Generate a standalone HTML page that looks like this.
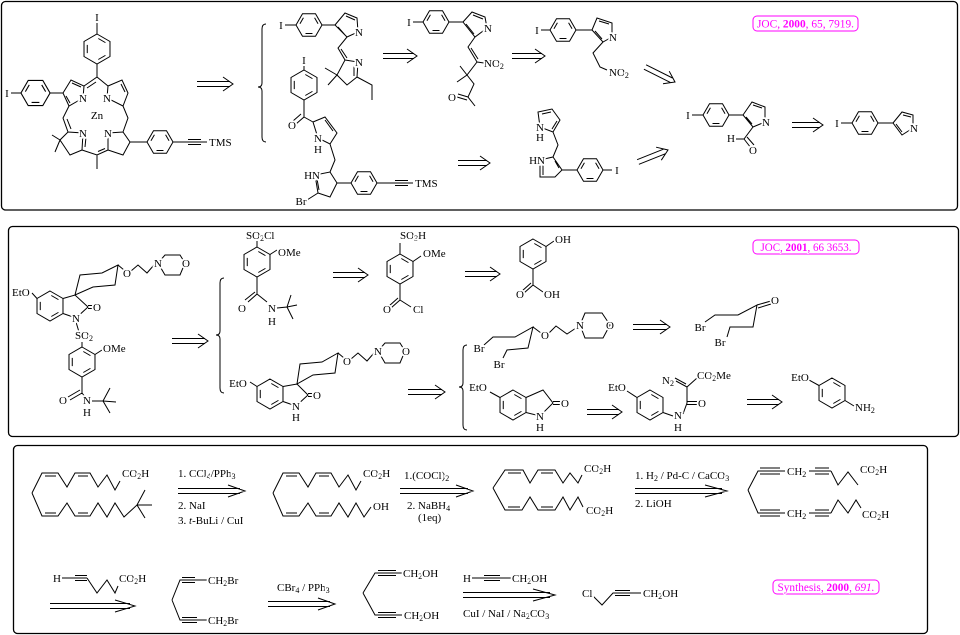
<!DOCTYPE html>
<html><head><meta charset="utf-8">
<style>
html,body{margin:0;padding:0;background:#fff;width:960px;height:635px;overflow:hidden}
svg{display:block}
.l{fill:none;stroke:#000;stroke-width:1}
text{font-family:"Liberation Serif",serif;font-size:11px;fill:#000;paint-order:stroke;stroke:#fff;stroke-width:3.5px;stroke-linejoin:round}
.c{text-anchor:middle}
.e{text-anchor:end}
.s{font-size:8px}
.m{fill:#f0f;font-size:12px;stroke-width:2px}
.box{fill:#fff;stroke:#f0f;stroke-width:1}
.pan{fill:none;stroke:#000;stroke-width:1.3}
</style></head>
<body>
<svg width="960" height="635" viewBox="0 0 960 635" xmlns="http://www.w3.org/2000/svg">
<defs>
<g id="hv"><polygon class="l" points="0,-15 12.99,-7.5 12.99,7.5 0,15 -12.99,7.5 -12.99,-7.5"/><polygon class="l" points="0,-11.25 9.74,-5.63 9.74,5.63 0,11.25 -9.74,5.63 -9.74,-5.63" stroke-dasharray="0 1.5 8.25 12.75"/></g>
<g id="hh"><polygon class="l" points="-13,0 -6.5,-11.26 6.5,-11.26 13,0 6.5,11.26 -6.5,11.26"/><polygon class="l" points="-9.75,0 -4.875,-8.44 4.875,-8.44 9.75,0 4.875,8.44 -4.875,8.44" stroke-dasharray="0 1.4 6.95 11.15"/></g>
</defs>
<rect width="960" height="635" fill="#fff"/>

<!-- PANEL BORDERS -->
<rect class="pan" x="1.5" y="1.5" width="956" height="208.5" rx="4"/>
<rect class="pan" x="8.5" y="226.5" width="950" height="210" rx="4"/>
<rect class="pan" x="13.5" y="445.5" width="914" height="188" rx="4"/>

<!-- ================= PANEL 1 ================= -->
<!-- porphyrin -->
<use href="#hv" x="97" y="49"/>
<use href="#hh" transform="translate(35.5,93) scale(1.12)"/>
<use href="#hh" x="160" y="142"/>
<path class="l" d="M97,23 L97,34 M97,64 L97,77 L84,86 M97,77 L108,86
M63,93 L71,80 L84,86 L83,98 L69,106 Z M72,83 L81,87 M66,96 L70,103
M50,93 L63,93 M11,93 L21,93 M87,88 L96,82
M108,86 L122,80 L128,93 L123,106 L107,98 Z M121,84 L125,92
M69,106 L63,118 L68,132 M67,119 L71,129
M68,132 L83,133 L82,150 L70,155 L60,140 Z M86,137 L85,147
M60,140 L52,135 M60,140 L55,152
M82,150 L97,155 L108,150 M98,151.5 L105,148.5 M97,155 L97,169
M108,133 L123,132 L130,142 L123,155 L108,150 Z
M123,106 L128,118 L123,132 M130,142 L147,142
M173,142 L207,142 M188,139.5 L201,139.5 M188,144.5 L201,144.5"/>
<text class="c" x="97" y="21">I</text>
<text class="c" x="7" y="97">I</text>
<text class="c" x="83" y="102">N</text>
<text class="c" x="107" y="102">N</text>
<text class="c" x="97" y="119">Zn</text>
<text class="c" x="83" y="137">N</text>
<text class="c" x="108" y="137">N</text>
<text x="209" y="146">TMS</text>

<!-- arrows panel 1 -->
<path class="l" d="M197,81.5 L230,81.5 M197,86.5 L230,86.5 M223,77 L233,84 L223,91
M383,53.5 L414,53.5 M383,58.5 L414,58.5 M407,49 L417,56 L407,63
M512,53.5 L542,53.5 M512,58.5 L542,58.5 M535,49 L545,56 L535,63
M458,160.5 L487,160.5 M458,165.5 L487,165.5 M480,156 L490,163 L480,170
M792,122.5 L820,122.5 M792,127.5 L820,127.5 M813,118 L823,125 L813,132
M643.9,69.2 L670.3,82.4 M646.1,64.8 L672.5,78 M663,83.8 L675,82 L669.2,71.2
M638.9,164.3 L665.2,153.8 M637.1,159.7 L663.4,149.2 M661.3,160.2 L668,150 L656.1,147.2"/>
<!-- brace 1 -->
<path class="l" d="M266,24 Q262,24 262,29 L262,83 Q262,87 258,87 Q262,87 262,91 L262,137 Q262,142 266,142"/>

<!-- T1 -->
<use href="#hh" x="309" y="25"/>
<path class="l" d="M285,25 L296,25 M322,25 L335,25
M335,25 L345,13 L357,18 L358,32 L347,37 Z M346,16 L355,20 M338,27 L345,35
M347,37 L338,48 L345,60 M341,49 L347,58
M345,60 L358,62 L357,77 L347,85 L337,75 Z M354,66 L354,76
M337,75 L325,68 M337,75 L328,85 M357,77 L372,85 L372,100"/>
<text class="c" x="281" y="29">I</text>
<text class="c" x="359" y="36">N</text>
<text class="c" x="359" y="66">N</text>

<!-- T2 -->
<use href="#hv" x="304" y="85"/>
<use href="#hh" x="364" y="183"/>
<path class="l" d="M304,66 L304,70 M304,100 L304,117 L296,124 M301,114 L293,121 M304,117 L313,122
M313,122 L325,117 L337,133 L330,144 L318,138 Z M325,120 L333,131
M330,144 L335,160 L330,172
M330,172 L337,183 L330,197 L318,193 L315,175 Z M319,190 L317,179
M318,193 L307,200 M337,183 L351,183
M377,183 L413,183 M395,180.5 L408,180.5 M395,185.5 L408,185.5"/>
<text class="c" x="304" y="64">I</text>
<text class="c" x="292" y="129">O</text>
<text class="c" x="318" y="142">N</text>
<text class="c" x="318" y="153">H</text>
<text class="e" x="320" y="179">HN</text>
<text class="c" x="301" y="205">Br</text>
<text x="415" y="187">TMS</text>

<!-- T3 -->
<use href="#hh" x="436" y="22"/>
<path class="l" d="M413,22 L423,22 M449,22 L463,22
M463,22 L472,12 L485,17 L487,28 L475,37 Z M473,15 L483,19 M466,24 L474,34
M475,37 L468,47 L477,62 M471,48 L478,59 M477,62 L484,63
M477,62 L467,75 L457,82 M467,75 L460,66 M467,75 L474,84 L468,97 L475,106
M468,97 L458,94 M467,100 L457,97"/>
<text class="c" x="409" y="26">I</text>
<text class="c" x="488" y="32">N</text>
<text x="484" y="67">NO<tspan class="s" dy="2">2</tspan></text>
<text class="c" x="452" y="101">O</text>

<!-- T4 -->
<use href="#hh" x="563" y="30"/>
<path class="l" d="M541,30 L550,30 M576,30 L592,30
M592,30 L597,18 L612,23 L612,37 L603,42 Z M599,21 L609,24 M595,31 L602,39
M603,42 L593,53 L600,67 L607,70"/>
<text class="c" x="537" y="34">I</text>
<text class="c" x="613" y="41">N</text>
<text x="609" y="76">NO<tspan class="s" dy="2">2</tspan></text>

<!-- T5 -->
<use href="#hh" x="590" y="170"/>
<path class="l" d="M540,127 L538,112 L552,109 L560,120 L553,132 Z M542,114 L551,112 M557,121 L552,129
M553,132 L558,145 L553,157
M553,157 L562,170 L555,177 L540,177 L540,160 Z M543,164 L543,175 M555,161 L559,168
M562,170 L577,170 M603,170 L612,170"/>
<text class="c" x="540" y="131">N</text>
<text class="c" x="540" y="141">H</text>
<text class="e" x="545" y="164">HN</text>
<text class="c" x="617" y="174">I</text>

<!-- aldehyde -->
<use href="#hh" x="716" y="115"/>
<path class="l" d="M692,115 L703,115 M729,115 L743,115
M743,115 L752,102 L765,107 L765,122 L753,127 Z M753,105 L762,108 M746,117 L752,124
M753,127 L744,139 L736,139 M744,139 L751,148 M747,137 L754,145"/>
<text class="c" x="688" y="119">I</text>
<text class="c" x="766" y="126">N</text>
<text class="c" x="731" y="142">H</text>
<text class="c" x="753" y="154">O</text>

<!-- final pyrrole -->
<use href="#hh" x="865" y="123"/>
<path class="l" d="M841,123 L852,123 M878,123 L893,123
M893,123 L902,112 L913,115 L913,128 L902,135 Z M903,115 L911,117 M896,124 L902,132"/>
<text class="c" x="837" y="127">I</text>
<text class="c" x="914" y="132">N</text>

<!-- citation 1 -->
<rect class="box" x="753" y="16" width="105" height="15" rx="4"/>
<text class="m c" x="805.5" y="27.5" textLength="97" lengthAdjust="spacingAndGlyphs">JOC, <tspan font-weight="bold">2000</tspan>, 65, 7919.</text>

<!-- ================= PANEL 2 ================= -->
<!-- main -->
<use href="#hv" x="50" y="306"/>
<use href="#hv" x="82" y="362"/>
<path class="l" d="M32,293 L37,298.5
M63,298.5 L75,295 L88,307 L76,318 L63,313.5
M88,305.5 L94,305.5 M88,308.5 L94,308.5
M75,295 L80,275 L102,273 L118,265 L115,285 L93,287 Z
M118,265 L124,270 M131,271 L138,265 L147,273 L154,265
M158,263 L165,255 L180,255 L185,263 L180,275 L165,275 Z
M76,322 L79,332 M82,342 L82,347
M95,354.5 L102,350
M82,377 L82,393 L70,400 M80,390 L68,397 M82,393 L86,398
M92,401 L103,401 L110,388 M103,401 L116,402 M103,401 L110,413"/>
<text x="12" y="296">EtO</text>
<text class="c" x="97" y="311">O</text>
<text class="c" x="127" y="277">O</text>
<text class="c" x="158" y="267">N</text>
<text class="c" x="186" y="267">O</text>
<text class="c" x="76" y="322">N</text>
<text class="c" x="84" y="339">SO<tspan class="s" dy="2">2</tspan></text>
<text x="103" y="352">OMe</text>
<text class="c" x="63" y="404">O</text>
<text class="c" x="87" y="404">N</text>
<text class="c" x="87" y="416">H</text>

<path class="l" d="M172,338.5 L205,338.5 M172,343.5 L205,343.5 M198,334 L208,341 L198,348
M333,272.5 L365,272.5 M333,277.5 L365,277.5 M358,268 L368,275 L358,282
M465,271.5 L497,271.5 M465,276.5 L497,276.5 M490,267 L500,274 L490,281
M408,389.5 L442,389.5 M408,394.5 L442,394.5 M435,385 L445,392 L435,399
M633,324.5 L667,324.5 M633,329.5 L667,329.5 M660,320 L670,327 L660,334
M587,409.5 L619,409.5 M587,414.5 L619,414.5 M612,405 L622,412 L612,419
M747,399.5 L779,399.5 M747,404.5 L779,404.5 M772,395 L782,402 L772,409"/>
<path class="l" d="M224,278 Q220,278 220,283 L220,331 Q220,335 216,335 Q220,335 220,339 L220,388 Q220,393 224,393"/>
<path class="l" d="M467,345 Q463,345 463,350 L463,383 Q463,387 459,387 Q463,387 463,391 L463,425 Q463,430 467,430"/>

<!-- SO2Cl -->
<use href="#hv" x="257" y="262"/>
<path class="l" d="M257,241 L257,247 M270,254.5 L277,250
M257,277 L257,294 L248,302 M255,292 L245,300 M257,294 L267,302
M277,308 L287,307 L291,295 M287,307 L297,305 M287,307 L293,319"/>
<text x="246" y="239">SO<tspan class="s" dy="2">2</tspan><tspan dy="-2">Cl</tspan></text>
<text x="278" y="256">OMe</text>
<text class="c" x="242" y="312">O</text>
<text class="c" x="272" y="312">N</text>
<text class="c" x="272" y="325">H</text>

<!-- SO3H -->
<use href="#hv" x="400" y="269"/>
<path class="l" d="M400,243 L400,254 M413,261.5 L421,256
M400,284 L400,300 L391,308 M398,298 L389,306 M400,300 L411,307"/>
<text x="400" y="239">SO<tspan class="s" dy="2">3</tspan><tspan dy="-2">H</tspan></text>
<text x="423" y="257">OMe</text>
<text class="c" x="387" y="313">O</text>
<text x="413" y="313">Cl</text>

<!-- phenol -->
<use href="#hv" x="533" y="254"/>
<path class="l" d="M546,246.5 L554,241 M533,269 L533,285 L524,293 M531,283 L522,291 M533,285 L543,292"/>
<text x="555" y="243">OH</text>
<text class="c" x="520" y="298">O</text>
<text x="544" y="298">OH</text>

<!-- lower spiro -->
<use href="#hv" x="270" y="394"/>
<path class="l" d="M250,382 L257,386.5
M283,386.5 L297,384 L308,395 L296,406 L283,401.5
M308,393.5 L314,393.5 M308,396.5 L314,396.5
M297,384 L300,364 L322,362 L338,353 L335,373 L313,375 Z
M338,353 L344,358 M351,359 L358,353 L367,361 L374,353
M378,351 L385,343 L400,343 L405,351 L400,363 L385,363 Z"/>
<text class="c" x="238" y="387">EtO</text>
<text class="c" x="317" y="399">O</text>
<text class="c" x="347" y="365">O</text>
<text class="c" x="378" y="355">N</text>
<text class="c" x="406" y="355">O</text>
<text class="c" x="296" y="410">N</text>
<text class="c" x="296" y="421">H</text>

<!-- dibromide -->
<path class="l" d="M484,345 L493,337 L515,337 L533,327 L528,348 L507,350 L503,358
M533,327 L541,333 M549,333 L556,326 L567,334 L576,328
M580,325 L585,313 L602,313 L610,325 L603,338 L585,338 Z"/>
<text class="c" x="479" y="352">Br</text>
<text class="c" x="499" y="368">Br</text>
<text class="c" x="545" y="339">O</text>
<text class="c" x="580" y="329">N</text>
<text class="c" x="610" y="329">O</text>

<!-- bromoketone -->
<path class="l" d="M705,322 L715,315 L738,315 L757,305 L753,327 L730,327 L727,337
M757,305 L771,301 M758,308 L771,304"/>
<text class="c" x="700" y="331">Br</text>
<text class="c" x="720" y="346">Br</text>
<text class="c" x="775" y="304">O</text>

<!-- oxindole -->
<use href="#hv" x="513" y="405"/>
<path class="l" d="M490,392 L500,397.5
M526,397.5 L543,390 L553,403 L540,416 L526,412.5
M553,401.5 L561,401.5 M553,404.5 L561,404.5"/>
<text class="c" x="478" y="391">EtO</text>
<text class="c" x="565" y="407">O</text>
<text class="c" x="540" y="420">N</text>
<text class="c" x="540" y="431">H</text>

<!-- diazo -->
<use href="#hv" x="650" y="405"/>
<path class="l" d="M627,391 L637,397.5 M663,412.5 L673,416
M683,414 L687,403 L687,387 M687,401.5 L697,401.5 M687,404.5 L697,404.5
M687,387 L676,381 M686,384 L675,378 M687,387 L697,378"/>
<text class="c" x="617" y="391">EtO</text>
<text class="c" x="678" y="419">N</text>
<text class="c" x="678" y="431">H</text>
<text class="c" x="702" y="407">O</text>
<text class="c" x="668" y="384">N<tspan class="s" dy="2">2</tspan></text>
<text x="697" y="379">CO<tspan class="s" dy="2">2</tspan><tspan dy="-2">Me</tspan></text>

<!-- phenetidine -->
<use href="#hv" x="832" y="393"/>
<path class="l" d="M809,380 L819,385.5 M845,400.5 L854,406"/>
<text class="c" x="800" y="381">EtO</text>
<text x="855" y="411">NH<tspan class="s" dy="2">2</tspan></text>

<!-- citation 2 -->
<rect class="box" x="753" y="240" width="106" height="14" rx="4"/>
<text class="m c" x="806" y="251" textLength="91" lengthAdjust="spacingAndGlyphs">JOC, <tspan font-weight="bold">2001</tspan>, 66 3653.</text>

<!-- ================= PANEL 3 ================= -->
<path class="l" d="M178,488.5 L240,488.5 M178,493.5 L240,493.5 M228,485 L245,491 L228,497
M400,488.5 L468,488.5 M400,493.5 L468,493.5 M456,485 L473,491 L456,497
M635,488.5 L722,488.5 M635,493.5 L722,493.5 M705,485 L727,491 L705,497
M50,603.5 L130,603.5 M50,608.5 L130,608.5 M115,600 L135,606 L115,612
M268,601.5 L330,601.5 M268,606.5 L330,606.5 M318,598 L335,604 L318,610
M463,592.5 L550,592.5 M463,597.5 L550,597.5 M533,589 L555,595 L533,601"/>

<!-- P1 -->
<path class="l" d="M32,493 L42,473 L58,473 L67,487 L75,473 L90,473 L98,487 L107,475 L115,490 L120,481
M45,476 L56,476 M78,476 L88,476
M32,493 L42,516 L58,516 L67,503 L75,516 L90,516 L98,503 L107,517 L115,503 L124,517 L137,505 L145,490 M137,505 L152,505 M137,505 L145,518
M45,513 L56,513 M78,513 L88,513"/>
<text x="122" y="477">CO<tspan class="s" dy="2">2</tspan><tspan dy="-2">H</tspan></text>
<text x="178" y="477">1. CCl<tspan class="s" dy="2">4</tspan><tspan dy="-2">/PPh</tspan><tspan class="s" dy="2">3</tspan></text>
<text x="178" y="509">2. NaI</text>
<text x="178" y="524">3. <tspan font-style="italic">t</tspan>-BuLi / CuI</text>

<!-- P2 -->
<path class="l" d="M273,493 L283,473 L299,473 L308,487 L316,473 L331,473 L339,487 L348,475 L356,490 L361,481
M286,476 L297,476 M319,476 L329,476
M273,493 L283,516 L299,516 L308,503 L316,516 L331,516 L339,503 L348,517 L356,503 L364,517 L371,507
M286,513 L297,513 M319,513 L329,513"/>
<text x="363" y="477">CO<tspan class="s" dy="2">2</tspan><tspan dy="-2">H</tspan></text>
<text x="373" y="510">OH</text>
<text x="404" y="479">1.(COCl)<tspan class="s" dy="2">2</tspan></text>
<text x="407" y="509">2. NaBH<tspan class="s" dy="2">4</tspan></text>
<text x="418" y="521">(1eq)</text>

<!-- P3 -->
<path class="l" d="M493,488 L505,470 L523,470 L530,483 L538,470 L555,470 L563,483 L570,473 L578,483 L582,475
M508,473 L521,473 M541,473 L553,473
M493,488 L505,510 L522,510 L530,497 L538,510 L555,510 L563,497 L570,510 L578,497 L583,507
M508,507 L520,507 M541,507 L553,507"/>
<text x="584" y="472">CO<tspan class="s" dy="2">2</tspan><tspan dy="-2">H</tspan></text>
<text x="586" y="514">CO<tspan class="s" dy="2">2</tspan><tspan dy="-2">H</tspan></text>
<text x="635" y="479">1. H<tspan class="s" dy="2">2</tspan><tspan dy="-2"> / Pd-C / CaCO</tspan><tspan class="s" dy="2">3</tspan></text>
<text x="635" y="507">2. LiOH</text>

<!-- P4 -->
<path class="l" d="M748,490 L758,471 L785,471 M760,468 L780,468 M760,474 L780,474
M809,471 L831,471 M815,468 L829,468 M815,474 L829,474 M831,471 L838,485 L848,472 L858,485
M748,490 L758,513 L785,513 M760,510 L780,510 M760,516 L780,516
M809,513 L831,513 M815,510 L829,510 M815,516 L829,516 M831,513 L838,500 L848,513 L856,500 L861,508"/>
<text x="787" y="475">CH<tspan class="s" dy="2">2</tspan></text>
<text x="787" y="517">CH<tspan class="s" dy="2">2</tspan></text>
<text x="860" y="473">CO<tspan class="s" dy="2">2</tspan><tspan dy="-2">H</tspan></text>
<text x="862" y="518">CO<tspan class="s" dy="2">2</tspan><tspan dy="-2">H</tspan></text>

<!-- row 2 -->
<path class="l" d="M62,578 L87,578 M75,575.5 L87,575.5 M75,580.5 L87,580.5 M87,578 L97,593 L107,580 L115,593 L118,586
M172,600 L180,580 L207,580 M182,577.5 L195,577.5 M182,582.5 L195,582.5
M172,600 L180,620 L207,620 M182,617.5 L197,617.5 M182,622.5 L197,622.5
M363,593 L375,573 L402,573 M378,570.5 L396,570.5 M378,575.5 L396,575.5
M363,593 L375,615 L402,615 M378,612.5 L396,612.5 M378,617.5 L396,617.5
M472,578 L511,578 M484,575.5 L500,575.5 M484,580.5 L500,580.5
M593,596 L602,605 L613,593 L641,593 M615,590.5 L630,590.5 M615,595.5 L630,595.5"/>
<text class="c" x="57" y="582">H</text>
<text x="119" y="582">CO<tspan class="s" dy="2">2</tspan><tspan dy="-2">H</tspan></text>
<text x="208" y="584">CH<tspan class="s" dy="2">2</tspan><tspan dy="-2">Br</tspan></text>
<text x="208" y="624">CH<tspan class="s" dy="2">2</tspan><tspan dy="-2">Br</tspan></text>
<text x="277" y="591">CBr<tspan class="s" dy="2">4</tspan><tspan dy="-2"> / PPh</tspan><tspan class="s" dy="2">3</tspan></text>
<text x="403" y="577">CH<tspan class="s" dy="2">2</tspan><tspan dy="-2">OH</tspan></text>
<text x="404" y="619">CH<tspan class="s" dy="2">2</tspan><tspan dy="-2">OH</tspan></text>
<text class="c" x="467" y="582">H</text>
<text x="512" y="582">CH<tspan class="s" dy="2">2</tspan><tspan dy="-2">OH</tspan></text>
<text x="463" y="617">CuI / NaI / Na<tspan class="s" dy="2">2</tspan><tspan dy="-2">CO</tspan><tspan class="s" dy="2">3</tspan></text>
<text x="582" y="597">Cl</text>
<text x="643" y="597">CH<tspan class="s" dy="2">2</tspan><tspan dy="-2">OH</tspan></text>

<!-- citation 3 -->
<rect class="box" x="773" y="580" width="106" height="14" rx="4"/>
<text class="m c" x="826" y="591" textLength="97" lengthAdjust="spacingAndGlyphs">Synthesis, <tspan font-weight="bold">2000</tspan>, <tspan font-style="italic">691.</tspan></text>
</svg>
</body></html>
